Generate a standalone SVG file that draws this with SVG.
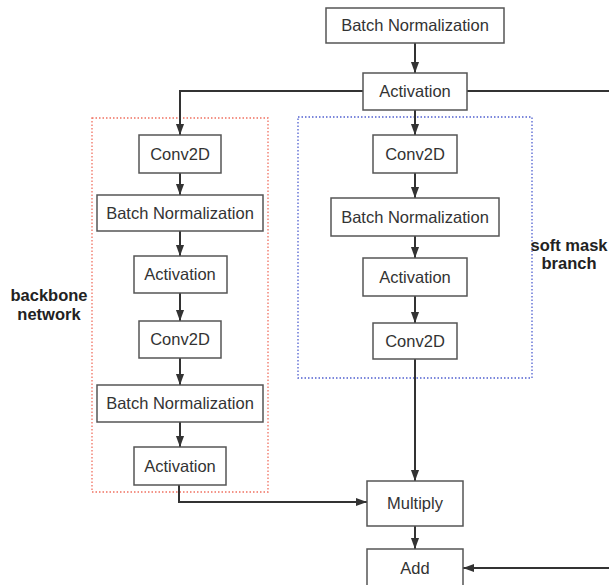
<svg xmlns="http://www.w3.org/2000/svg" width="609" height="585" viewBox="0 0 609 585">
<style>
.box{fill:#fff;stroke:#555;stroke-width:1.5}
.t{font-family:"Liberation Sans",Arial,sans-serif;font-size:16.5px;fill:#333;text-anchor:middle}
.lbl{font-family:"Liberation Sans",Arial,sans-serif;font-size:16.5px;font-weight:bold;fill:#222;text-anchor:middle}
.c{fill:none;stroke:#333;stroke-width:2}
.grp{fill:none;stroke-width:1.3;stroke-dasharray:1.5 2}
</style>
<defs>
<marker id="ah" viewBox="0 0 10 10" refX="10" refY="5" markerWidth="5.5" markerHeight="5.5" orient="auto" markerUnits="strokeWidth">
<path d="M0,1.3 L10,5 L0,8.7 z" fill="#333"/>
</marker>
</defs>
<rect x="0" y="0" width="609" height="585" fill="#fff"/>
<g id="backbone-group">
<rect x="92" y="118" width="176" height="374" class="grp" stroke="#f07060"/>
<text class="lbl" x="49" y="301">backbone</text>
<text class="lbl" x="49" y="320">network</text>
</g>
<g id="softmask-group">
<rect x="298" y="117" width="234" height="261" class="grp" stroke="#5060d0"/>
<text class="lbl" x="569" y="251">soft mask</text>
<text class="lbl" x="569" y="269">branch</text>
</g>
<g id="connectors">
<path class="c" d="M415,43 V73" marker-end="url(#ah)"/>
<path class="c" d="M415,110 V135" marker-end="url(#ah)"/>
<path class="c" d="M363,91 H180 V135" marker-end="url(#ah)"/>
<path class="c" d="M467,91 H612"/>
<path class="c" d="M180,173 V195" marker-end="url(#ah)"/>
<path class="c" d="M180,231 V256" marker-end="url(#ah)"/>
<path class="c" d="M180,293 V321" marker-end="url(#ah)"/>
<path class="c" d="M180,358 V385" marker-end="url(#ah)"/>
<path class="c" d="M180,422 V447" marker-end="url(#ah)"/>
<path class="c" d="M179,485 V502 H367" marker-end="url(#ah)"/>
<path class="c" d="M415,173 V198" marker-end="url(#ah)"/>
<path class="c" d="M415,236 V258" marker-end="url(#ah)"/>
<path class="c" d="M415,296 V323" marker-end="url(#ah)"/>
<path class="c" d="M415,359 V481" marker-end="url(#ah)"/>
<path class="c" d="M415,526 V549" marker-end="url(#ah)"/>
<path class="c" d="M612,568 H463" marker-end="url(#ah)"/>
</g>
<g id="bn-top"><rect class="box" x="326" y="8" width="178" height="35"/><text class="t" x="415" y="31">Batch Normalization</text></g>
<g id="act-top"><rect class="box" x="363" y="73" width="104" height="37"/><text class="t" x="415" y="97">Activation</text></g>
<g id="conv-l1"><rect class="box" x="139" y="135" width="82" height="38"/><text class="t" x="180" y="160">Conv2D</text></g>
<g id="bn-l1"><rect class="box" x="97" y="195" width="166" height="36"/><text class="t" x="180" y="219">Batch Normalization</text></g>
<g id="act-l1"><rect class="box" x="134" y="256" width="93" height="37"/><text class="t" x="180" y="280">Activation</text></g>
<g id="conv-l2"><rect class="box" x="139" y="321" width="82" height="37"/><text class="t" x="180" y="345">Conv2D</text></g>
<g id="bn-l2"><rect class="box" x="97" y="385" width="166" height="37"/><text class="t" x="180" y="409">Batch Normalization</text></g>
<g id="act-l2"><rect class="box" x="134" y="447" width="92" height="38"/><text class="t" x="180" y="472">Activation</text></g>
<g id="conv-r1"><rect class="box" x="373" y="135" width="84" height="38"/><text class="t" x="415" y="160">Conv2D</text></g>
<g id="bn-r1"><rect class="box" x="331" y="198" width="168" height="38"/><text class="t" x="415" y="223">Batch Normalization</text></g>
<g id="act-r1"><rect class="box" x="363" y="258" width="104" height="38"/><text class="t" x="415" y="283">Activation</text></g>
<g id="conv-r2"><rect class="box" x="373" y="323" width="84" height="36"/><text class="t" x="415" y="347">Conv2D</text></g>
<g id="multiply"><rect class="box" x="367" y="481" width="96" height="45"/><text class="t" x="415" y="509">Multiply</text></g>
<g id="add"><rect class="box" x="367" y="549" width="96" height="45"/><text class="t" x="415" y="574">Add</text></g>
</svg>
